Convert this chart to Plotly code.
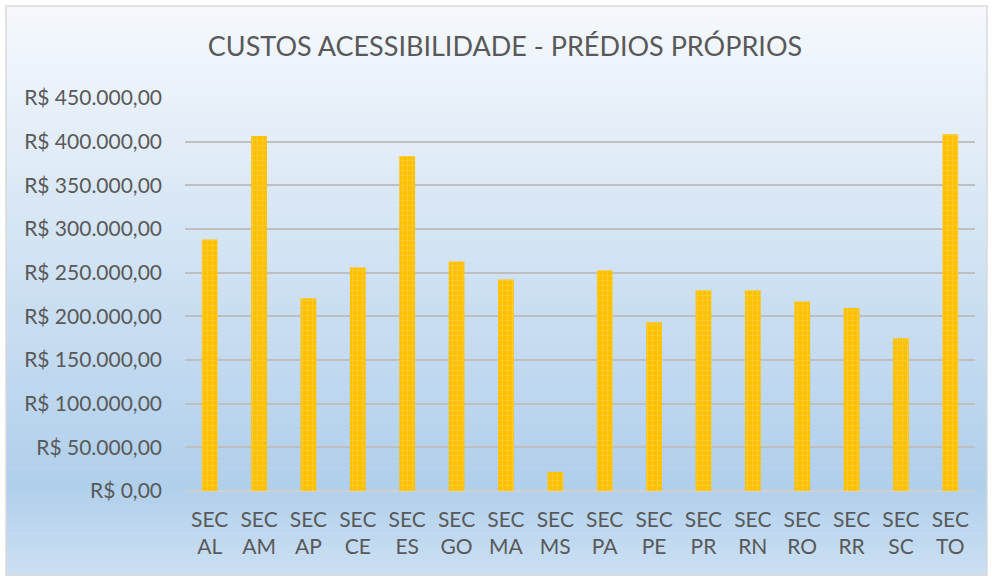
import plotly.graph_objects as go

# data
categories = ["SEC<br>AL", "SEC<br>AM", "SEC<br>AP", "SEC<br>CE", "SEC<br>ES", "SEC<br>GO",
              "SEC<br>MA", "SEC<br>MS", "SEC<br>PA", "SEC<br>PE", "SEC<br>PR", "SEC<br>RN",
              "SEC<br>RO", "SEC<br>RR", "SEC<br>SC", "SEC<br>TO"]
custos = [288000, 406500, 220800, 256000, 383200, 262900, 242300, 21800,
          252900, 193300, 230000, 230000, 217000, 209400, 175000, 408400]
y_ticks = [0, 50000, 100000, 150000, 200000, 250000, 300000, 350000, 400000, 450000]
y_tick_labels = ["R$ 0,00", "R$ 50.000,00", "R$ 100.000,00", "R$ 150.000,00", "R$ 200.000,00",
                 "R$ 250.000,00", "R$ 300.000,00", "R$ 350.000,00", "R$ 400.000,00", "R$ 450.000,00"]

W, H = 992, 578
L, R, T, B = 185, 17, 98, 87
plot_w, plot_h = W - L - R, H - T - B
FONT = "Lato"
GREY = "#595959"


def px_x(x):
    return (x - L) / plot_w


def px_y(y):
    return (H - B - y) / plot_h


def mix(c1, c2, t):
    return "rgb({},{},{})".format(*[round(a + (b - a) * t) for a, b in zip(c1, c2)])


# background gradient, built as thin bands behind the plot
top_c, mid_c, bot_c = (246, 249, 253), (176, 207, 235), (204, 224, 243)
shapes = []
y0, y_mid, y1 = 6, 485, 575
steps = 80
for i in range(steps):
    a = y0 + (y1 - y0) * i / steps
    b = y0 + (y1 - y0) * (i + 1) / steps
    c = (a + b) / 2
    if c <= y_mid:
        col = mix(top_c, mid_c, (c - y0) / (y_mid - y0))
    else:
        col = mix(mid_c, bot_c, (c - y_mid) / (y1 - y_mid))
    shapes.append(dict(type="rect", xref="paper", yref="paper", layer="below",
                       x0=px_x(6), x1=px_x(987), y0=px_y(b + 0.5), y1=px_y(a),
                       fillcolor=col, line=dict(width=0)))

# outer chart border
shapes.append(dict(type="rect", xref="paper", yref="paper", layer="above",
                   x0=px_x(6), x1=px_x(987), y0=px_y(575), y1=px_y(6),
                   fillcolor="rgba(0,0,0,0)", line=dict(color="#D9D9D9", width=1.5)))

fig = go.Figure(go.Bar(
    x=categories,
    y=custos,
    marker=dict(
        color="#FFC000",
        line=dict(width=0),
        pattern=dict(shape="+", fillmode="overlay", fgcolor="#FFDD80", size=5, solidity=0.25),
    ),
))

fig.update_layout(
    width=W, height=H,
    margin=dict(l=L, r=R, t=T, b=B),
    paper_bgcolor="white",
    plot_bgcolor="rgba(0,0,0,0)",
    bargap=0.68,
    shapes=shapes,
    showlegend=False,
    font=dict(family=FONT, color=GREY, size=21),
    title=dict(text="CUSTOS ACESSIBILIDADE - PRÉDIOS PRÓPRIOS",
               x=505 / W, xanchor="center", y=1 - 47 / H, yanchor="middle",
               xref="container", yref="container",
               font=dict(family=FONT, size=27, color=GREY)),
)

fig.update_yaxes(
    range=[0, 450000],
    tickvals=y_ticks,
    ticktext=y_tick_labels,
    showgrid=True, gridcolor="#BFBFBF", gridwidth=1.6,
    zeroline=True, zerolinecolor="#D0D0D0", zerolinewidth=2,
    ticks="", ticklabelstandoff=22,
    tickfont=dict(size=21),
)
fig.update_xaxes(
    showgrid=False, showline=False,
    ticks="", ticklabelstandoff=14,
    tickfont=dict(size=21),
)

# drop the page's default body margin so the chart sits at the window's corner
fig.write_html("out.html",
               config={"displayModeBar": False},
               post_script="document.body.style.margin='0';document.body.style.overflow='hidden';")
